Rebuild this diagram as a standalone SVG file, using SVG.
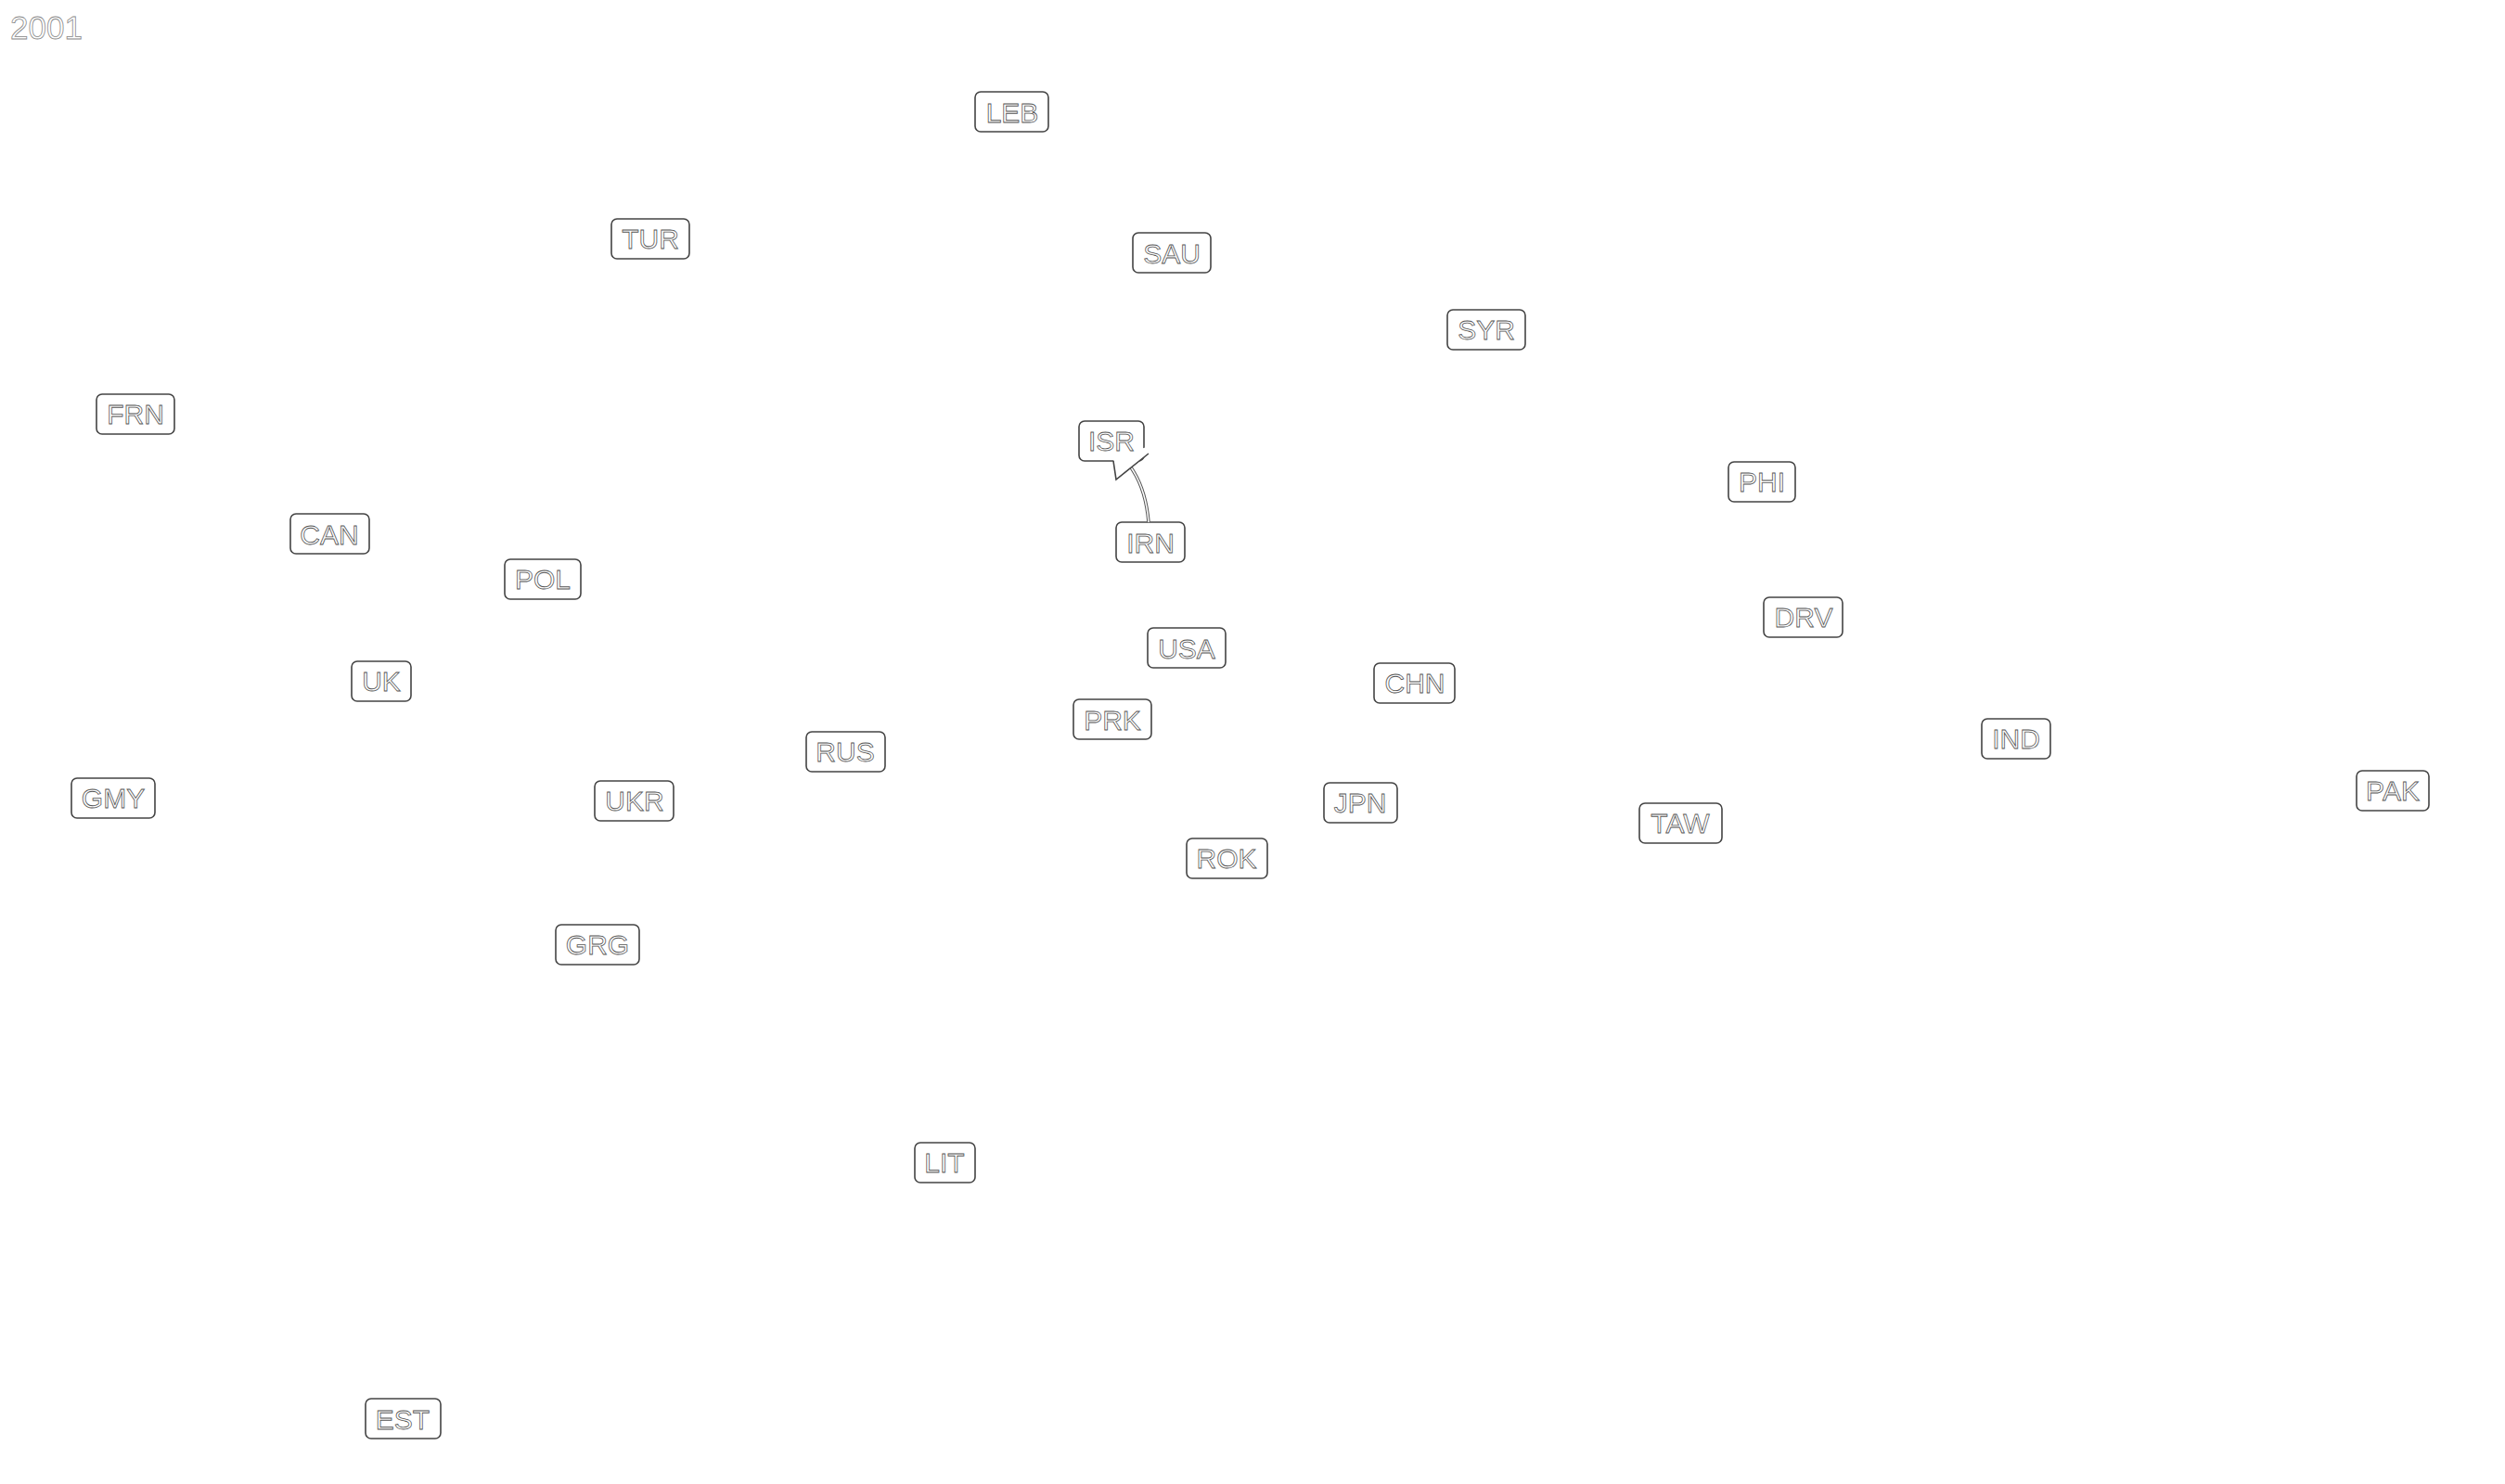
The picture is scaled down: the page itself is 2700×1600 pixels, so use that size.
<svg xmlns="http://www.w3.org/2000/svg" width="2700" height="1600" viewBox="0 0 2700 1600">
<style>
.bg{fill:#fff}
.box{fill:#fff;stroke:#444;stroke-width:1.6}
.lbl{font-family:"Liberation Sans",Arial,sans-serif;font-size:30px;fill:#fff;stroke:#555;stroke-width:0.8;text-anchor:middle}
.yr{font-family:"Liberation Sans",Arial,sans-serif;font-size:35px;fill:#fff;stroke:#888;stroke-width:0.8}
.edge-o{fill:none;stroke:#555;stroke-width:3.5}
.edge-i{fill:none;stroke:#fff;stroke-width:1.5}
</style>
<rect class="bg" x="0" y="0" width="2700" height="1600"/>
<text class="yr" x="11" y="42">2001</text>
<g id="n-LEB"><rect class="box" x="1051" y="99" width="79" height="43" rx="6"/><text class="lbl" x="1091" y="132">LEB</text></g>
<g id="n-TUR"><rect class="box" x="659" y="236" width="84" height="43" rx="6"/><text class="lbl" x="701" y="268">TUR</text></g>
<g id="n-SAU"><rect class="box" x="1221" y="251" width="84" height="43" rx="6"/><text class="lbl" x="1263" y="284">SAU</text></g>
<g id="n-SYR"><rect class="box" x="1560" y="334" width="84" height="43" rx="6"/><text class="lbl" x="1602" y="366">SYR</text></g>
<g id="n-FRN"><rect class="box" x="104" y="425" width="84" height="43" rx="6"/><text class="lbl" x="146" y="457">FRN</text></g>
<g id="n-PHI"><rect class="box" x="1863" y="498" width="72" height="43" rx="6"/><text class="lbl" x="1899" y="530">PHI</text></g>
<g id="n-CAN"><rect class="box" x="313" y="554" width="85" height="43" rx="6"/><text class="lbl" x="355" y="587">CAN</text></g>
<g id="n-IRN"><rect class="box" x="1203" y="563" width="74" height="43" rx="6"/><text class="lbl" x="1240" y="596">IRN</text></g>
<g id="n-POL"><rect class="box" x="544" y="603" width="82" height="43" rx="6"/><text class="lbl" x="585" y="635">POL</text></g>
<g id="n-DRV"><rect class="box" x="1901" y="644" width="85" height="43" rx="6"/><text class="lbl" x="1944" y="676">DRV</text></g>
<g id="n-USA"><rect class="box" x="1237" y="677" width="84" height="43" rx="6"/><text class="lbl" x="1279" y="710">USA</text></g>
<g id="n-CHN"><rect class="box" x="1481" y="715" width="87" height="43" rx="6"/><text class="lbl" x="1525" y="747">CHN</text></g>
<g id="n-UK"><rect class="box" x="379" y="713" width="64" height="43" rx="6"/><text class="lbl" x="411" y="745">UK</text></g>
<g id="n-PRK"><rect class="box" x="1157" y="754" width="84" height="43" rx="6"/><text class="lbl" x="1199" y="787">PRK</text></g>
<g id="n-IND"><rect class="box" x="2136" y="775" width="74" height="43" rx="6"/><text class="lbl" x="2173" y="807">IND</text></g>
<g id="n-RUS"><rect class="box" x="869" y="789" width="85" height="43" rx="6"/><text class="lbl" x="911" y="821">RUS</text></g>
<g id="n-GMY"><rect class="box" x="77" y="839" width="90" height="43" rx="6"/><text class="lbl" x="122" y="871">GMY</text></g>
<g id="n-UKR"><rect class="box" x="641" y="842" width="85" height="43" rx="6"/><text class="lbl" x="684" y="874">UKR</text></g>
<g id="n-JPN"><rect class="box" x="1427" y="844" width="79" height="43" rx="6"/><text class="lbl" x="1466" y="876">JPN</text></g>
<g id="n-PAK"><rect class="box" x="2540" y="831" width="78" height="43" rx="6"/><text class="lbl" x="2579" y="863">PAK</text></g>
<g id="n-TAW"><rect class="box" x="1767" y="866" width="89" height="43" rx="6"/><text class="lbl" x="1811" y="898">TAW</text></g>
<g id="n-ROK"><rect class="box" x="1279" y="904" width="87" height="43" rx="6"/><text class="lbl" x="1322" y="936">ROK</text></g>
<g id="n-GRG"><rect class="box" x="599" y="997" width="90" height="43" rx="6"/><text class="lbl" x="644" y="1029">GRG</text></g>
<g id="n-LIT"><rect class="box" x="986" y="1232" width="65" height="43" rx="6"/><text class="lbl" x="1018" y="1264">LIT</text></g>
<g id="n-EST"><rect class="box" x="394" y="1508" width="81" height="43" rx="6"/><text class="lbl" x="434" y="1541">EST</text></g>
<g id="n-ISR"><rect class="box" x="1163" y="454" width="70" height="43" rx="6"/></g>
<g id="edges">
<path class="edge-o" d="M1238,563 Q1235,527 1219,504"/>
<path class="edge-i" d="M1238,563 Q1235,527 1219,504"/>
<polygon points="1200,493 1203,517 1238,489 1236,482" fill="#fff" stroke="none"/>
<polyline points="1200,497 1203,517 1238,489" fill="none" stroke="#444" stroke-width="1.6"/>
</g>
<text class="lbl" x="1198" y="486">ISR</text>
</svg>
